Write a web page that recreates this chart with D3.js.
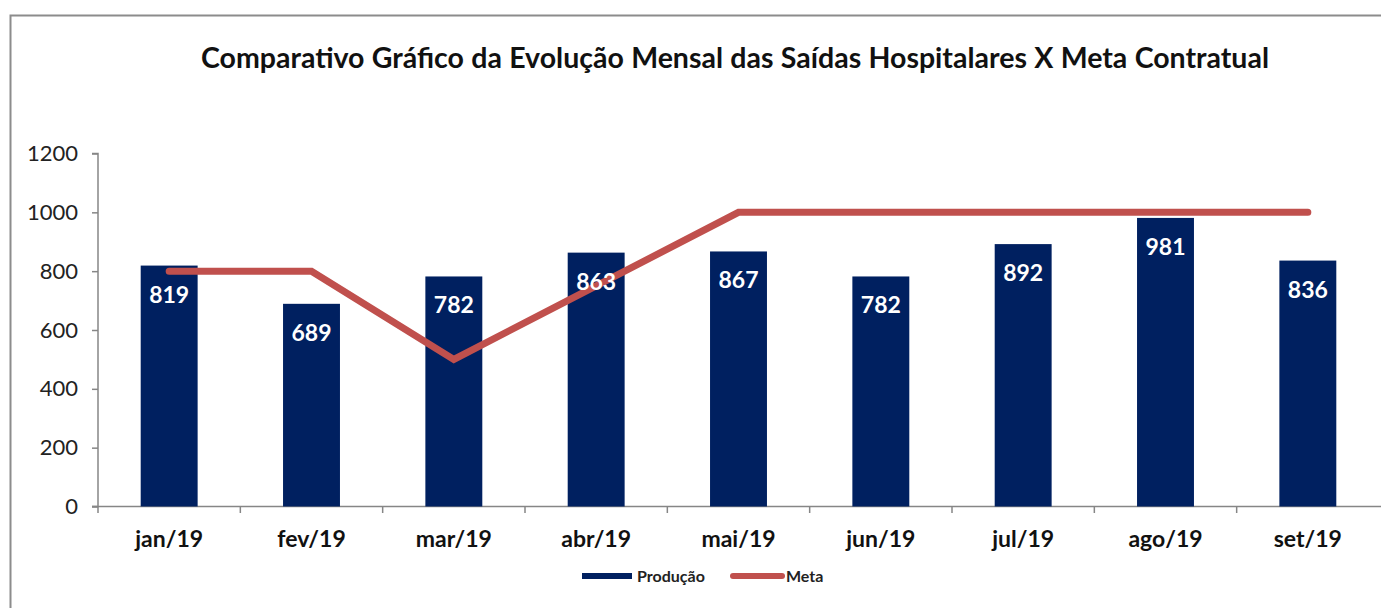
<!DOCTYPE html>
<html><head><meta charset="utf-8">
<script src="https://cdn.jsdelivr.net/npm/d3@7"></script>
<style>body{margin:0;background:#fff;}svg{display:block;}text{font-family:Lato,"Open Sans",sans-serif;}</style>
</head><body>
<script>
const categories = ["jan/19","fev/19","mar/19","abr/19","mai/19","jun/19","jul/19","ago/19","set/19"];
const producao = [819,689,782,863,867,782,892,981,836];
const meta = [800,800,500,750,1000,1000,1000,1000,1000];
const yTicks = [0,200,400,600,800,1000,1200];
const title = "Comparativo Gráfico da Evolução Mensal das Saídas Hospitalares X Meta Contratual";

const W = 1381, H = 608;
const svg = d3.select("body").append("svg").attr("width", W).attr("height", H);

// outer border
svg.append("path").attr("d", `M10.5,${H} V15.5 H${W}`).attr("fill","none").attr("stroke","#8c8c8c").attr("stroke-width",2);

const x = d3.scaleBand().domain(categories).range([98, 1379]).padding(0);
const y = d3.scaleLinear().domain([0,1200]).range([506.5, 153.5]);

// title, word spacing stretched to span the same width as the reference
const t = svg.append("text").attr("x", 735).attr("y", 68).attr("text-anchor","middle")
  .attr("font-size", 28.5).attr("font-weight","bold").attr("fill","#111").text(title);
const natural = t.node().getComputedTextLength();
const gaps = title.split(" ").length - 1;
const extra = Math.max(0, (1068 - natural) / gaps);
t.attr("word-spacing", extra);

// y axis
const gy = svg.append("g").attr("transform","translate(98,0)")
  .call(d3.axisLeft(y).tickValues(yTicks).tickSize(6).tickPadding(14).tickFormat(d3.format("d")));
gy.select(".domain").attr("stroke","#868686").attr("stroke-width",1.5).attr("d","M-6,153.5H0V506.5H-6");
gy.selectAll(".tick line").attr("stroke","#868686").attr("stroke-width",1.5);
gy.selectAll(".tick text").attr("font-size",22).attr("fill","#222").attr("font-family","Lato, sans-serif");

// x axis
const gx = svg.append("g").attr("transform","translate(0,506.5)")
  .call(d3.axisBottom(x).tickSize(0).tickPadding(21));
gx.select(".domain").attr("stroke","#868686").attr("stroke-width",1.5).attr("d","M92,0H1381");
gx.selectAll(".tick text").attr("font-size",23).attr("font-weight","bold").attr("fill","#111").attr("font-family","Lato, sans-serif").attr("dy","0.85em");
// boundary ticks
svg.append("g").selectAll("line").data(categories).join("line")
  .attr("x1", d => x(d)).attr("x2", d => x(d)).attr("y1",506.5).attr("y2",513)
  .attr("stroke","#868686").attr("stroke-width",1.5);

// bars
const bw = x.bandwidth()*0.4;
svg.append("g").selectAll("rect").data(producao).join("rect")
  .attr("x", (d,i) => x(categories[i]) + x.bandwidth()/2 - bw/2)
  .attr("width", bw)
  .attr("y", d => y(d)).attr("height", d => y(0) - y(d))
  .attr("fill","#002060");

// line
const line = d3.line().x((d,i) => x(categories[i]) + x.bandwidth()/2).y(d => y(d));
svg.append("path").datum(meta).attr("d", line).attr("fill","none")
  .attr("stroke","#C0504D").attr("stroke-width",7).attr("stroke-linecap","round").attr("stroke-linejoin","miter");

// bar labels
svg.append("g").selectAll("text").data(producao).join("text")
  .attr("x", (d,i) => x(categories[i]) + x.bandwidth()/2)
  .attr("y", d => y(d) + 37)
  .attr("text-anchor","middle").attr("font-size",23).attr("font-weight","bold").attr("fill","#fff")
  .text(d => d);

// legend
const lg = svg.append("g");
lg.append("rect").attr("x",582).attr("y",573).attr("width",50).attr("height",6).attr("fill","#002060");
lg.append("text").attr("x",637).attr("y",582).attr("font-size",16).attr("font-weight","bold").attr("fill","#222").text("Produção");
lg.append("line").attr("x1",733).attr("x2",782).attr("y1",576).attr("y2",576).attr("stroke","#C0504D").attr("stroke-width",6).attr("stroke-linecap","round");
lg.append("text").attr("x",786).attr("y",582).attr("font-size",16).attr("font-weight","bold").attr("fill","#222").text("Meta");
</script>
</body></html>
